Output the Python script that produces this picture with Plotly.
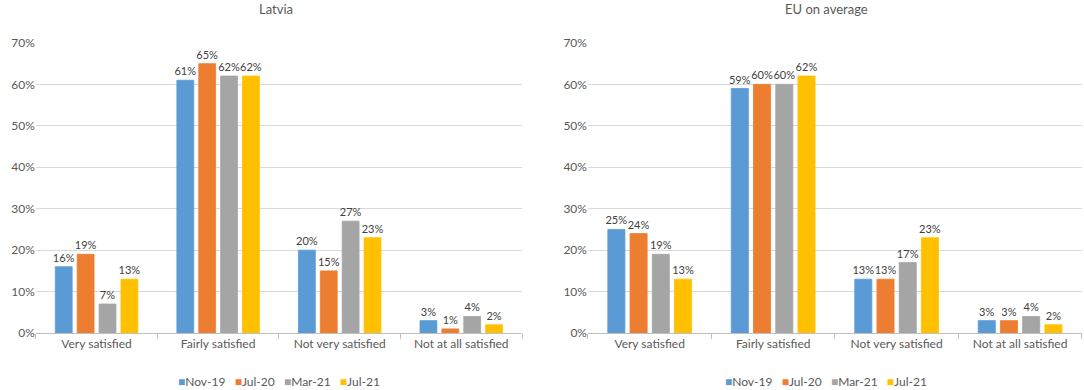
import plotly.graph_objects as go

categories = ["Very satisfied", "Fairly satisfied", "Not very satisfied", "Not at all satisfied"]
series_names = ["Nov-19", "Jul-20", "Mar-21", "Jul-21"]
colors = ["#5B9BD5", "#ED7D31", "#A5A5A5", "#FFC000"]

latvia_nov19 = [16, 61, 20, 3]
latvia_jul20 = [19, 65, 15, 1]
latvia_mar21 = [7, 62, 27, 4]
latvia_jul21 = [13, 62, 23, 2]

eu_nov19 = [25, 59, 13, 3]
eu_jul20 = [24, 60, 13, 3]
eu_mar21 = [19, 60, 17, 4]
eu_jul21 = [13, 62, 23, 2]

y_ticks = [0, 10, 20, 30, 40, 50, 60, 70]
y_tick_labels = ["0%", "10%", "20%", "30%", "40%", "50%", "60%", "70%"]

latvia = [latvia_nov19, latvia_jul20, latvia_mar21, latvia_jul21]
eu = [eu_nov19, eu_jul20, eu_mar21, eu_jul21]

FONT = "Lato, 'Open Sans', sans-serif"
TXT = "#595959"

fig = go.Figure()
for name, col, vals in zip(series_names, colors, latvia):
    fig.add_trace(go.Bar(x=categories, y=vals, name=name, marker_color=col,
                         marker_line=dict(color=col, width=0.8),
                         text=[f"{v}%" for v in vals], textposition="outside",
                         constraintext="none", showlegend=False,
                         textfont=dict(size=11, color="#404040", family=FONT),
                         cliponaxis=False, xaxis="x", yaxis="y"))
for name, col, vals in zip(series_names, colors, eu):
    fig.add_trace(go.Bar(x=categories, y=vals, name=name, marker_color=col,
                         marker_line=dict(color=col, width=0.8),
                         text=[f"{v}%" for v in vals], textposition="outside",
                         constraintext="none", showlegend=False,
                         textfont=dict(size=11, color="#404040", family=FONT),
                         cliponaxis=False, xaxis="x2", yaxis="y2"))

axis_x = dict(showgrid=False, showline=True, linecolor="#BFBFBF", linewidth=1,
              ticks="outside", tickson="boundaries", ticklen=5, tickcolor="#BFBFBF",
              automargin=False,
              tickfont=dict(size=12, color=TXT, family=FONT))
axis_y = dict(range=[0, 70], tickmode="array", tickvals=y_ticks, ticktext=y_tick_labels,
              showgrid=True, automargin=False,
              gridcolor="#D9D9D9", gridwidth=1, zeroline=False, showline=False,
              tickfont=dict(size=12, color=TXT, family=FONT))

legend_text = "&nbsp;&nbsp;&nbsp;".join(
    f"<span style='color:{c}'>■</span>{n}" for n, c in zip(series_names, colors))

fig.update_layout(
    width=1084, height=390,
    margin=dict(l=0, r=0, t=0, b=0, autoexpand=False),
    paper_bgcolor="white", plot_bgcolor="white",
    barmode="group", bargap=0.28, bargroupgap=0.23,
    uniformtext=dict(minsize=11, mode="show"),
    font=dict(family=FONT, color=TXT, size=12),
    xaxis=dict(domain=[0.033, 0.4816], anchor="y", **axis_x),
    yaxis=dict(domain=[0.146, 0.89], anchor="x", **axis_y),
    xaxis2=dict(domain=[0.5424, 0.998], anchor="y2", **axis_x),
    yaxis2=dict(domain=[0.146, 0.89], anchor="x2", **axis_y),
    annotations=[
        dict(text="Latvia", x=0.255, y=0.977, xref="paper", yref="paper",
             xanchor="center", yanchor="middle",
             showarrow=False, font=dict(size=13, color=TXT, family=FONT)),
        dict(text="EU on average", x=0.762, y=0.977, xref="paper", yref="paper",
             xanchor="center", yanchor="middle",
             showarrow=False, font=dict(size=13, color=TXT, family=FONT)),
        dict(text=legend_text, x=0.257, y=0.023, xref="paper", yref="paper",
             xanchor="center", yanchor="middle",
             showarrow=False, font=dict(size=12, color=TXT, family=FONT)),
        dict(text=legend_text, x=0.762, y=0.023, xref="paper", yref="paper",
             xanchor="center", yanchor="middle",
             showarrow=False, font=dict(size=12, color=TXT, family=FONT)),
    ],
)

fig.write_html("out.html", config={"displayModeBar": False},
               post_script="document.body.style.margin='0';")
